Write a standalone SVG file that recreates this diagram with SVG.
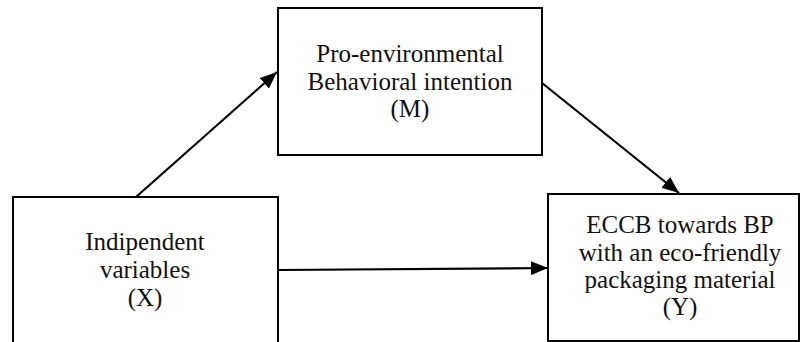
<svg xmlns="http://www.w3.org/2000/svg" width="800" height="342" viewBox="0 0 800 342">
  <style>
    .box { fill: #ffffff; stroke: #000000; stroke-width: 2; }
    .label { font-family: "Liberation Serif", "Times New Roman", serif; font-size: 25px; fill: #111111; text-anchor: middle; }
    .edge { stroke: #000000; stroke-width: 2.2; fill: none; marker-end: url(#arrow); }
  </style>
  <defs>
    <marker id="arrow" markerUnits="userSpaceOnUse" markerWidth="18" markerHeight="14" refX="17" refY="7" orient="auto">
      <path d="M0,0 L17,7 L0,14 Z" fill="#000000"/>
    </marker>
  </defs>
  <rect width="800" height="342" fill="#ffffff"/>

  <g id="node-m">
    <rect class="box" x="278" y="8" width="264" height="147"/>
    <text class="label" x="410" y="62">Pro-environmental</text>
    <text class="label" x="410" y="90">Behavioral intention</text>
    <text class="label" x="410" y="117">(M)</text>
  </g>

  <g id="node-x">
    <rect class="box" x="13" y="197" width="265" height="160"/>
    <text class="label" x="145" y="250">Indipendent</text>
    <text class="label" x="145" y="278">variables</text>
    <text class="label" x="145" y="306">(X)</text>
  </g>

  <g id="node-y">
    <rect class="box" x="548" y="194" width="251" height="147"/>
    <text class="label" x="680" y="233">ECCB towards BP</text>
    <text class="label" x="680" y="261">with an eco-friendly</text>
    <text class="label" x="680" y="288">packaging material</text>
    <text class="label" x="680" y="315">(Y)</text>
  </g>

  <g id="connectors">
    <line class="edge" x1="136" y1="197" x2="277" y2="72"/>
    <line class="edge" x1="542" y1="83" x2="679" y2="193"/>
    <line class="edge" x1="278" y1="270" x2="548" y2="268"/>
  </g>
</svg>
